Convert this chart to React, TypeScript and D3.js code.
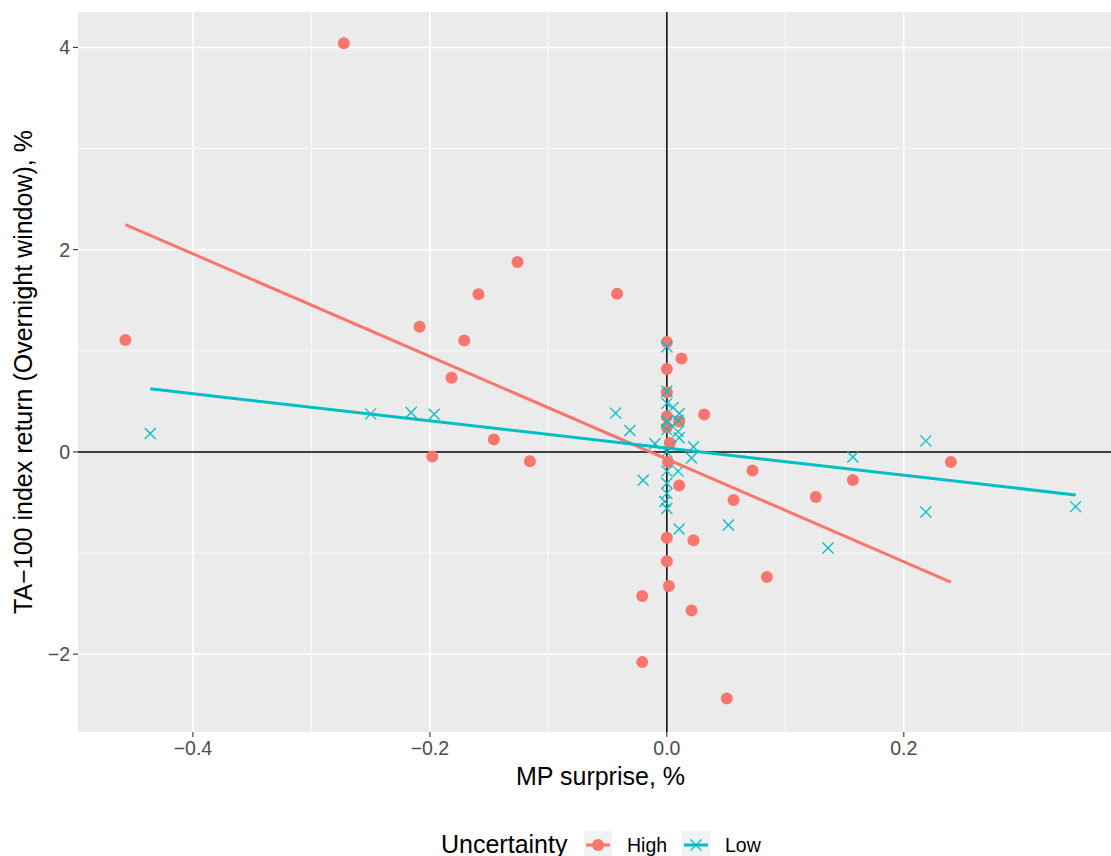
import React from "react";
import * as d3 from "d3";

const highX = [-0.2726, -0.457, -0.2087, -0.159, -0.126, -0.171, -0.1817, -0.146, -0.198, -0.1156, -0.042, 0, 0.0124, 0, 0, 0.0315, 0, 0.0104, 0, 0.0025, 0.001, 0.0104, 0.0723, 0.0563, 0.1257, 0.157, 0.2397, 0, 0.0225, 0, 0.0017, -0.0208, 0.0208, -0.0208, 0.0844, 0.0506];
const highY = [4.04, 1.106, 1.238, 1.558, 1.878, 1.102, 0.733, 0.122, -0.046, -0.092, 1.564, 1.086, 0.924, 0.819, 0.59, 0.37, 0.35, 0.3, 0.244, 0.087, -0.1, -0.333, -0.185, -0.475, -0.446, -0.277, -0.099, -0.848, -0.874, -1.082, -1.327, -1.426, -1.568, -2.079, -1.238, -2.439];

const lowX = [-0.436, -0.25, -0.2158, -0.1964, -0.0433, -0.0312, -0.02, -0.0101, 0, 0, 0, 0.0053, 0.0104, 0.0095, 0.0095, 0.0104, 0, 0, 0, 0.0225, 0.0208, 0.0095, 0, 0, 0, -0.0017, 0, 0.0104, 0.052, 0.136, 0.157, 0.2186, 0.2186, 0.345];
const lowY = [0.181, 0.376, 0.389, 0.373, 0.383, 0.211, -0.28, 0.08, 1.04, 0.6, 0.48, 0.44, 0.38, 0.31, 0.2, 0.14, 0.3, 0.22, 0.0, 0.05, -0.06, -0.19, -0.19, -0.31, -0.41, -0.49, -0.56, -0.762, -0.723, -0.95, -0.05, 0.109, -0.594, -0.541];

// fitted lm lines (endpoints)
const fitHighX = [-0.457, 0.2397];
const fitHighY = [2.248, -1.287];
const fitLowX = [-0.436, 0.345];
const fitLowY = [0.624, -0.426];

const xMajor = [-0.4, -0.2, 0.0, 0.2];
const xMajorLabels = ["\u22120.4", "\u22120.2", "0.0", "0.2"];
const xMinor = [-0.5, -0.3, -0.1, 0.1, 0.3];
const yMajor = [-2, 0, 2, 4];
const yMajorLabels = ["\u22122", "0", "2", "4"];
const yMinor = [-1, 1, 3];

const RED = "#F8766D";
const CYAN = "#00BFC4";
const FONT = "'Liberation Sans', Arial, Helvetica, sans-serif";

export default function App() {
  const W = 1111, H = 856;
  const pL = 78, pR = 1123, pT = 12, pB = 732;
  const x = d3.scaleLinear().domain([-0.497, 0.385]).range([pL, pR]);
  const y = d3.scaleLinear().domain([-2.77, 4.35]).range([pB, pT]);
  const line = d3.line<[number, number]>().x(d => x(d[0])).y(d => y(d[1]));
  const highPts = highX.map((v, i) => [v, highY[i]] as [number, number]);
  const lowPts = lowX.map((v, i) => [v, lowY[i]] as [number, number]);
  const fitH = fitHighX.map((v, i) => [v, fitHighY[i]] as [number, number]);
  const fitL = fitLowX.map((v, i) => [v, fitLowY[i]] as [number, number]);
  const cs = 5.5;
  const cross = (cx: number, cy: number, k: string | number, sw = 1.3) => (
    <path key={k} d={`M${cx - cs},${cy - cs}L${cx + cs},${cy + cs}M${cx - cs},${cy + cs}L${cx + cs},${cy - cs}`} stroke={CYAN} strokeWidth={sw} fill="none" />
  );
  return (
    <svg width={W} height={H} style={{ position: "absolute", left: 0, top: 0, background: "#fff" }} fontFamily={FONT}>
      <defs>
        <clipPath id="panel"><rect x={pL} y={pT} width={pR - pL} height={pB - pT} /></clipPath>
      </defs>
      <rect x={pL} y={pT} width={pR - pL} height={pB - pT} fill="#EBEBEB" />
      <g clipPath="url(#panel)">
        {xMinor.map(v => <line key={"xm" + v} x1={x(v)} x2={x(v)} y1={pT} y2={pB} stroke="#fff" strokeWidth={0.75} />)}
        {yMinor.map(v => <line key={"ym" + v} x1={pL} x2={pR} y1={y(v)} y2={y(v)} stroke="#fff" strokeWidth={0.75} />)}
        {xMajor.map(v => <line key={"xM" + v} x1={x(v)} x2={x(v)} y1={pT} y2={pB} stroke="#fff" strokeWidth={1.5} />)}
        {yMajor.map(v => <line key={"yM" + v} x1={pL} x2={pR} y1={y(v)} y2={y(v)} stroke="#fff" strokeWidth={1.5} />)}
        <line x1={pL} x2={pR} y1={y(0)} y2={y(0)} stroke="#000" strokeWidth={1.5} />
        <line x1={x(0)} x2={x(0)} y1={pT} y2={pB} stroke="#000" strokeWidth={1.5} />
        {highPts.map((d, i) => <circle key={"h" + i} cx={x(d[0])} cy={y(d[1])} r={6} fill={RED} />)}
        {lowPts.map((d, i) => cross(x(d[0]), y(d[1]), "l" + i))}
        <path d={line(fitH) || ""} stroke={RED} strokeWidth={3} fill="none" />
        <path d={line(fitL) || ""} stroke={CYAN} strokeWidth={3} fill="none" />
      </g>
      {/* axes */}
      {xMajor.map((v, i) => (
        <g key={"xt" + v}>
          <line x1={x(v)} x2={x(v)} y1={pB} y2={pB + 5} stroke="#333" strokeWidth={1.1} />
          <text x={x(v)} y={pB + 23} textAnchor="middle" fontSize={19.5} fill="#4D4D4D">{xMajorLabels[i]}</text>
        </g>
      ))}
      {yMajor.map((v, i) => (
        <g key={"yt" + v}>
          <line x1={pL - 5} x2={pL} y1={y(v)} y2={y(v)} stroke="#333" strokeWidth={1.1} />
          <text x={pL - 8} y={y(v) + 7} textAnchor="end" fontSize={19.5} fill="#4D4D4D">{yMajorLabels[i]}</text>
        </g>
      ))}
      <text x={(pL + pR) / 2} y={785} textAnchor="middle" fontSize={25} fill="#000">MP surprise, %</text>
      <text transform={`translate(32,${(pT + pB) / 2}) rotate(-90)`} textAnchor="middle" fontSize={25} fill="#000">TA−100 index return (Overnight window), %</text>
      {/* legend */}
      <g>
        <text x={441} y={853} fontSize={25} fill="#000">Uncertainty</text>
        <rect x={584} y={831} width={28} height={28} fill="#F2F2F2" />
        <line x1={586} x2={610} y1={845} y2={845} stroke={RED} strokeWidth={3} />
        <circle cx={598} cy={845} r={6} fill={RED} />
        <text x={627} y={852} fontSize={19.5} fill="#000">High</text>
        <rect x={682} y={831} width={28} height={28} fill="#F2F2F2" />
        <line x1={684} x2={708} y1={845} y2={845} stroke={CYAN} strokeWidth={3} />
        {cross(696, 845, "legx")}
        <text x={725} y={852} fontSize={19.5} fill="#000">Low</text>
      </g>
    </svg>
  );
}
